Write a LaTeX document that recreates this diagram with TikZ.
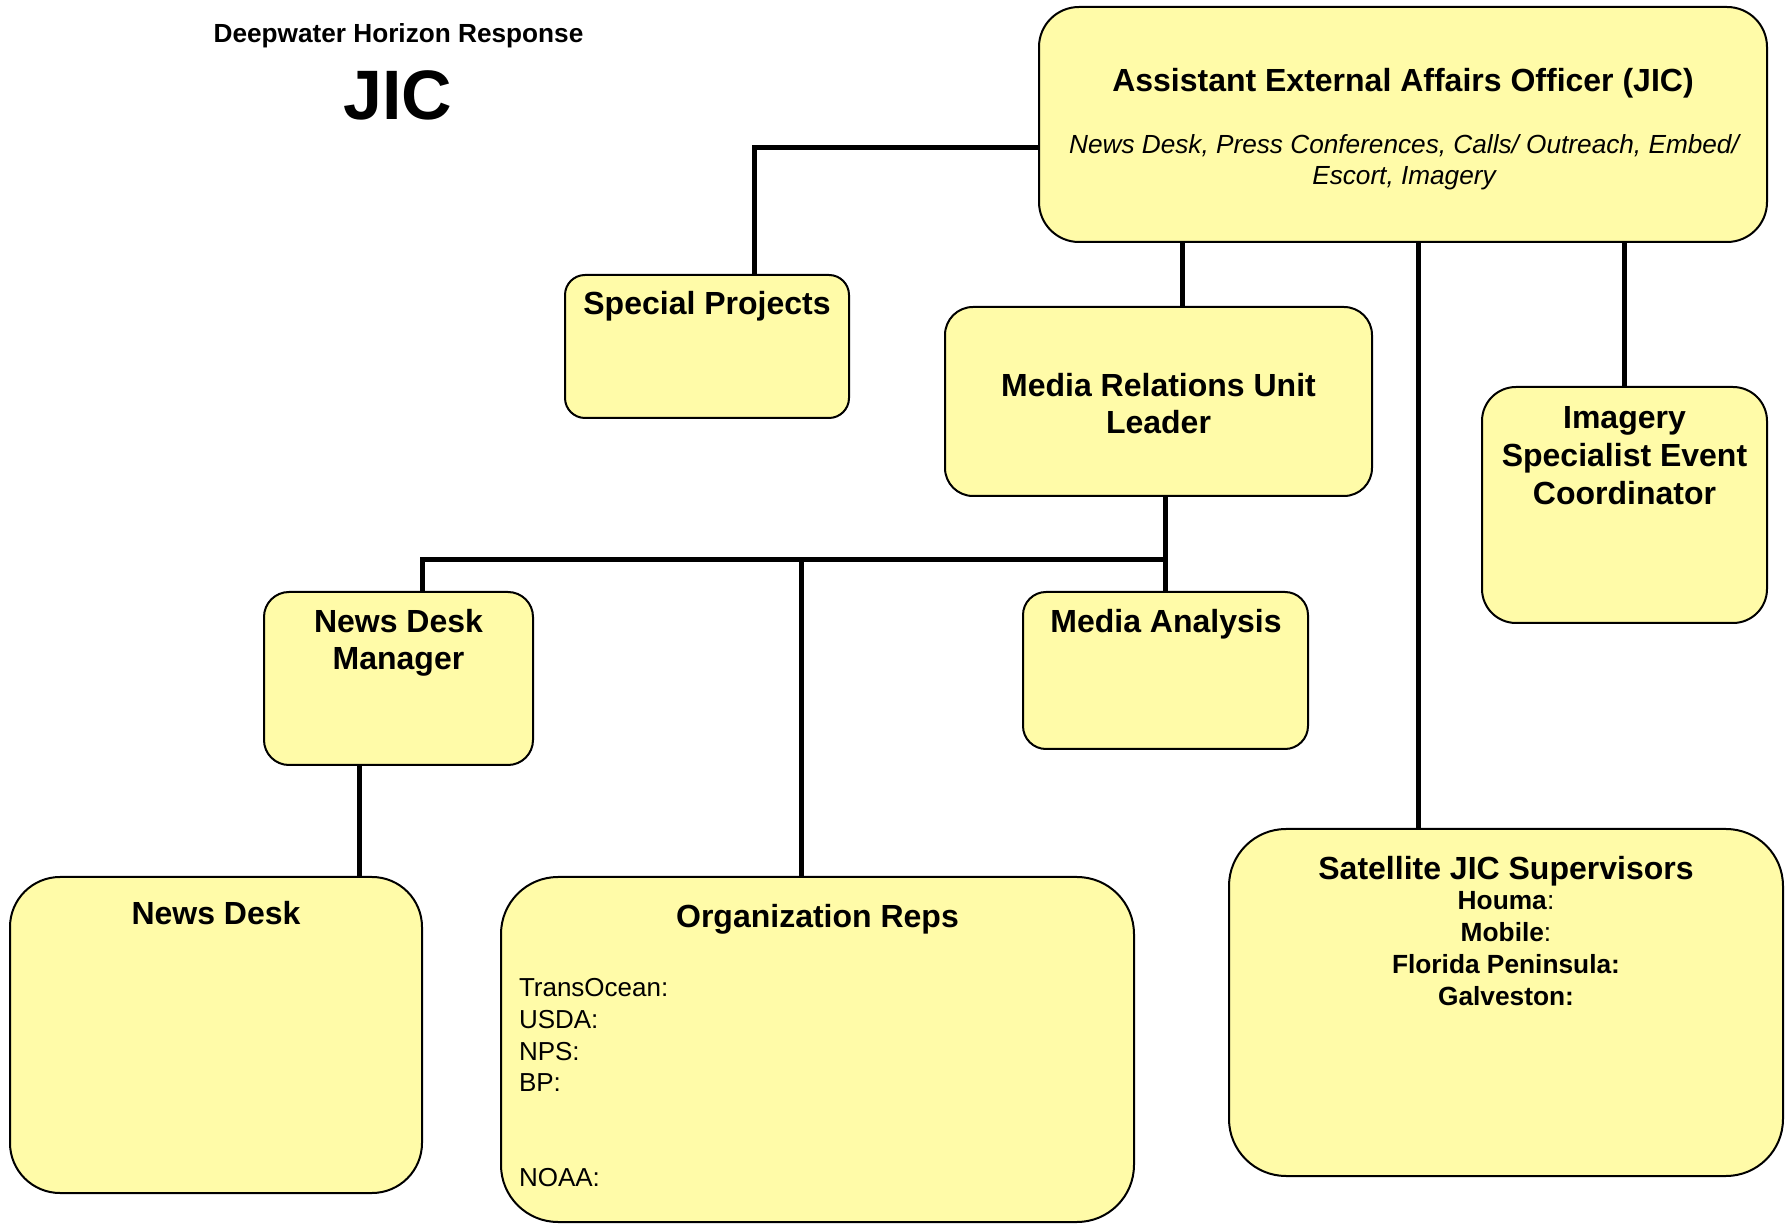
\documentclass[tikz,border=0pt]{standalone}
\usepackage{fontspec}
\setmainfont{Liberation Sans}
\usetikzlibrary{calc}
\definecolor{boxfill}{RGB}{255,251,168}
\begin{document}
\begin{tikzpicture}[x=0.5pt,y=-0.5pt,
  box/.style={draw=black,line width=1pt,fill=boxfill,inner sep=0pt,rectangle},
  conn/.style={draw=black,line width=2.5pt},
  lbl/.style={inner sep=0pt,outer sep=0pt,align=center,anchor=north},
  ttl/.style={lbl,font=\bfseries\fontsize{16}{18.2}\selectfont}]
\useasboundingbox (0,0) rectangle (1785,1224);
% boxes
\node[box,minimum width=364pt,minimum height=117.5pt,rounded corners=20pt] (aeao) at (1403,124.5) {};
\node[box,minimum width=142pt,minimum height=71.5pt,rounded corners=10pt] (sp) at (707,346.5) {};
\node[box,minimum width=213.5pt,minimum height=94.5pt,rounded corners=14pt] (mru) at (1158.5,401.5) {};
\node[box,minimum width=142.5pt,minimum height=118pt,rounded corners=17pt] (img) at (1624.5,505) {};
\node[box,minimum width=134.5pt,minimum height=86.5pt,rounded corners=12.5pt] (ndm) at (398.5,678.5) {};
\node[box,minimum width=142.5pt,minimum height=78.5pt,rounded corners=11.5pt] (ma) at (1165.5,670.5) {};
\node[box,minimum width=206pt,minimum height=158pt,rounded corners=25pt] (nd) at (216,1035) {};
\node[box,minimum width=316.5pt,minimum height=172.5pt,rounded corners=28.5pt] (org) at (817.5,1049.5) {};
\node[box,minimum width=277pt,minimum height=173.5pt,rounded corners=28.5pt] (sat) at (1506,1002.5) {};
% connector anchors
\coordinate (spTop) at ($(sp.north)+(47,0)$);
\coordinate (aeaoL) at ($(aeao.west)+(0,23.5)$);
\coordinate (mruTop) at ($(mru.north)+(23.5,0)$);
\coordinate (satTop) at ($(sat.north)+(-88,0)$);
\coordinate (ndmTop) at ($(ndm.north)+(23.5,0)$);
\coordinate (ndmBot) at ($(ndm.south)+(-39.5,0)$);
\coordinate (orgTop) at ($(org.north)+(-16.5,0)$);
\coordinate (bus) at (ma.north |- 0,560);
% connectors
\draw[conn] (aeaoL) -| (spTop);
\draw[conn] (mruTop) -- (mruTop |- aeao.south);
\draw[conn] (satTop) -- (satTop |- aeao.south);
\draw[conn] (img.north) -- (img.north |- aeao.south);
\draw[conn] (ma.north) -- (ma.north |- mru.south);
\draw[conn] (bus) -| (ndmTop);
\draw[conn] (orgTop |- bus) -- (orgTop);
\draw[conn] (ndmBot) -- (ndmBot |- nd.north);
% texts
\node[lbl,font=\bfseries\fontsize{13.1}{15}\selectfont] (title) at (398.5,24) {Deepwater Horizon Response};
\node[lbl,font=\bfseries\fontsize{35}{40}\selectfont] (jic) at (398,71) {JIC};
\node[ttl] (aeaoT) at (1403,68.5) {Assistant External Affairs Officer (JIC)};
\node[lbl,font=\itshape\fontsize{13.1}{15.35}\selectfont] (aeaoS) at (1404,135) {News Desk, Press Conferences, Calls/ Outreach, Embed/\\Escort, Imagery};
\node[ttl] (spT) at (707,291.5) {Special Projects};
\node[ttl] (mruT) at (1158.5,373.5) {Media Relations Unit\\Leader};
\node[ttl,font=\bfseries\fontsize{16}{19}\selectfont] (imgT) at (1624.5,406) {Imagery\\Specialist Event\\Coordinator};
\node[ttl,font=\bfseries\fontsize{16}{18.8}\selectfont] (ndmT) at (398.5,609) {News Desk\\Manager};
\node[ttl] (maT) at (1166,609) {Media Analysis};
\node[ttl] (ndT) at (216,901.5) {News Desk};
\node[ttl] (orgT) at (817.5,904) {Organization Reps};
\node[lbl,anchor=north west,align=left,font=\fontsize{13}{15.85}\selectfont] (orgL) at (519,978.5) {TransOcean:\\USDA:\\NPS:\\BP:\\[31.7pt]NOAA:};
\node[ttl] (satT) at (1506,856) {Satellite JIC Supervisors};
\node[lbl,font=\fontsize{13.15}{16}\selectfont] (satL) at (1506,891) {\textbf{Houma}:\\\textbf{Mobile}:\\\textbf{Florida Peninsula:}\\\textbf{Galveston:}};
\end{tikzpicture}
\end{document}
